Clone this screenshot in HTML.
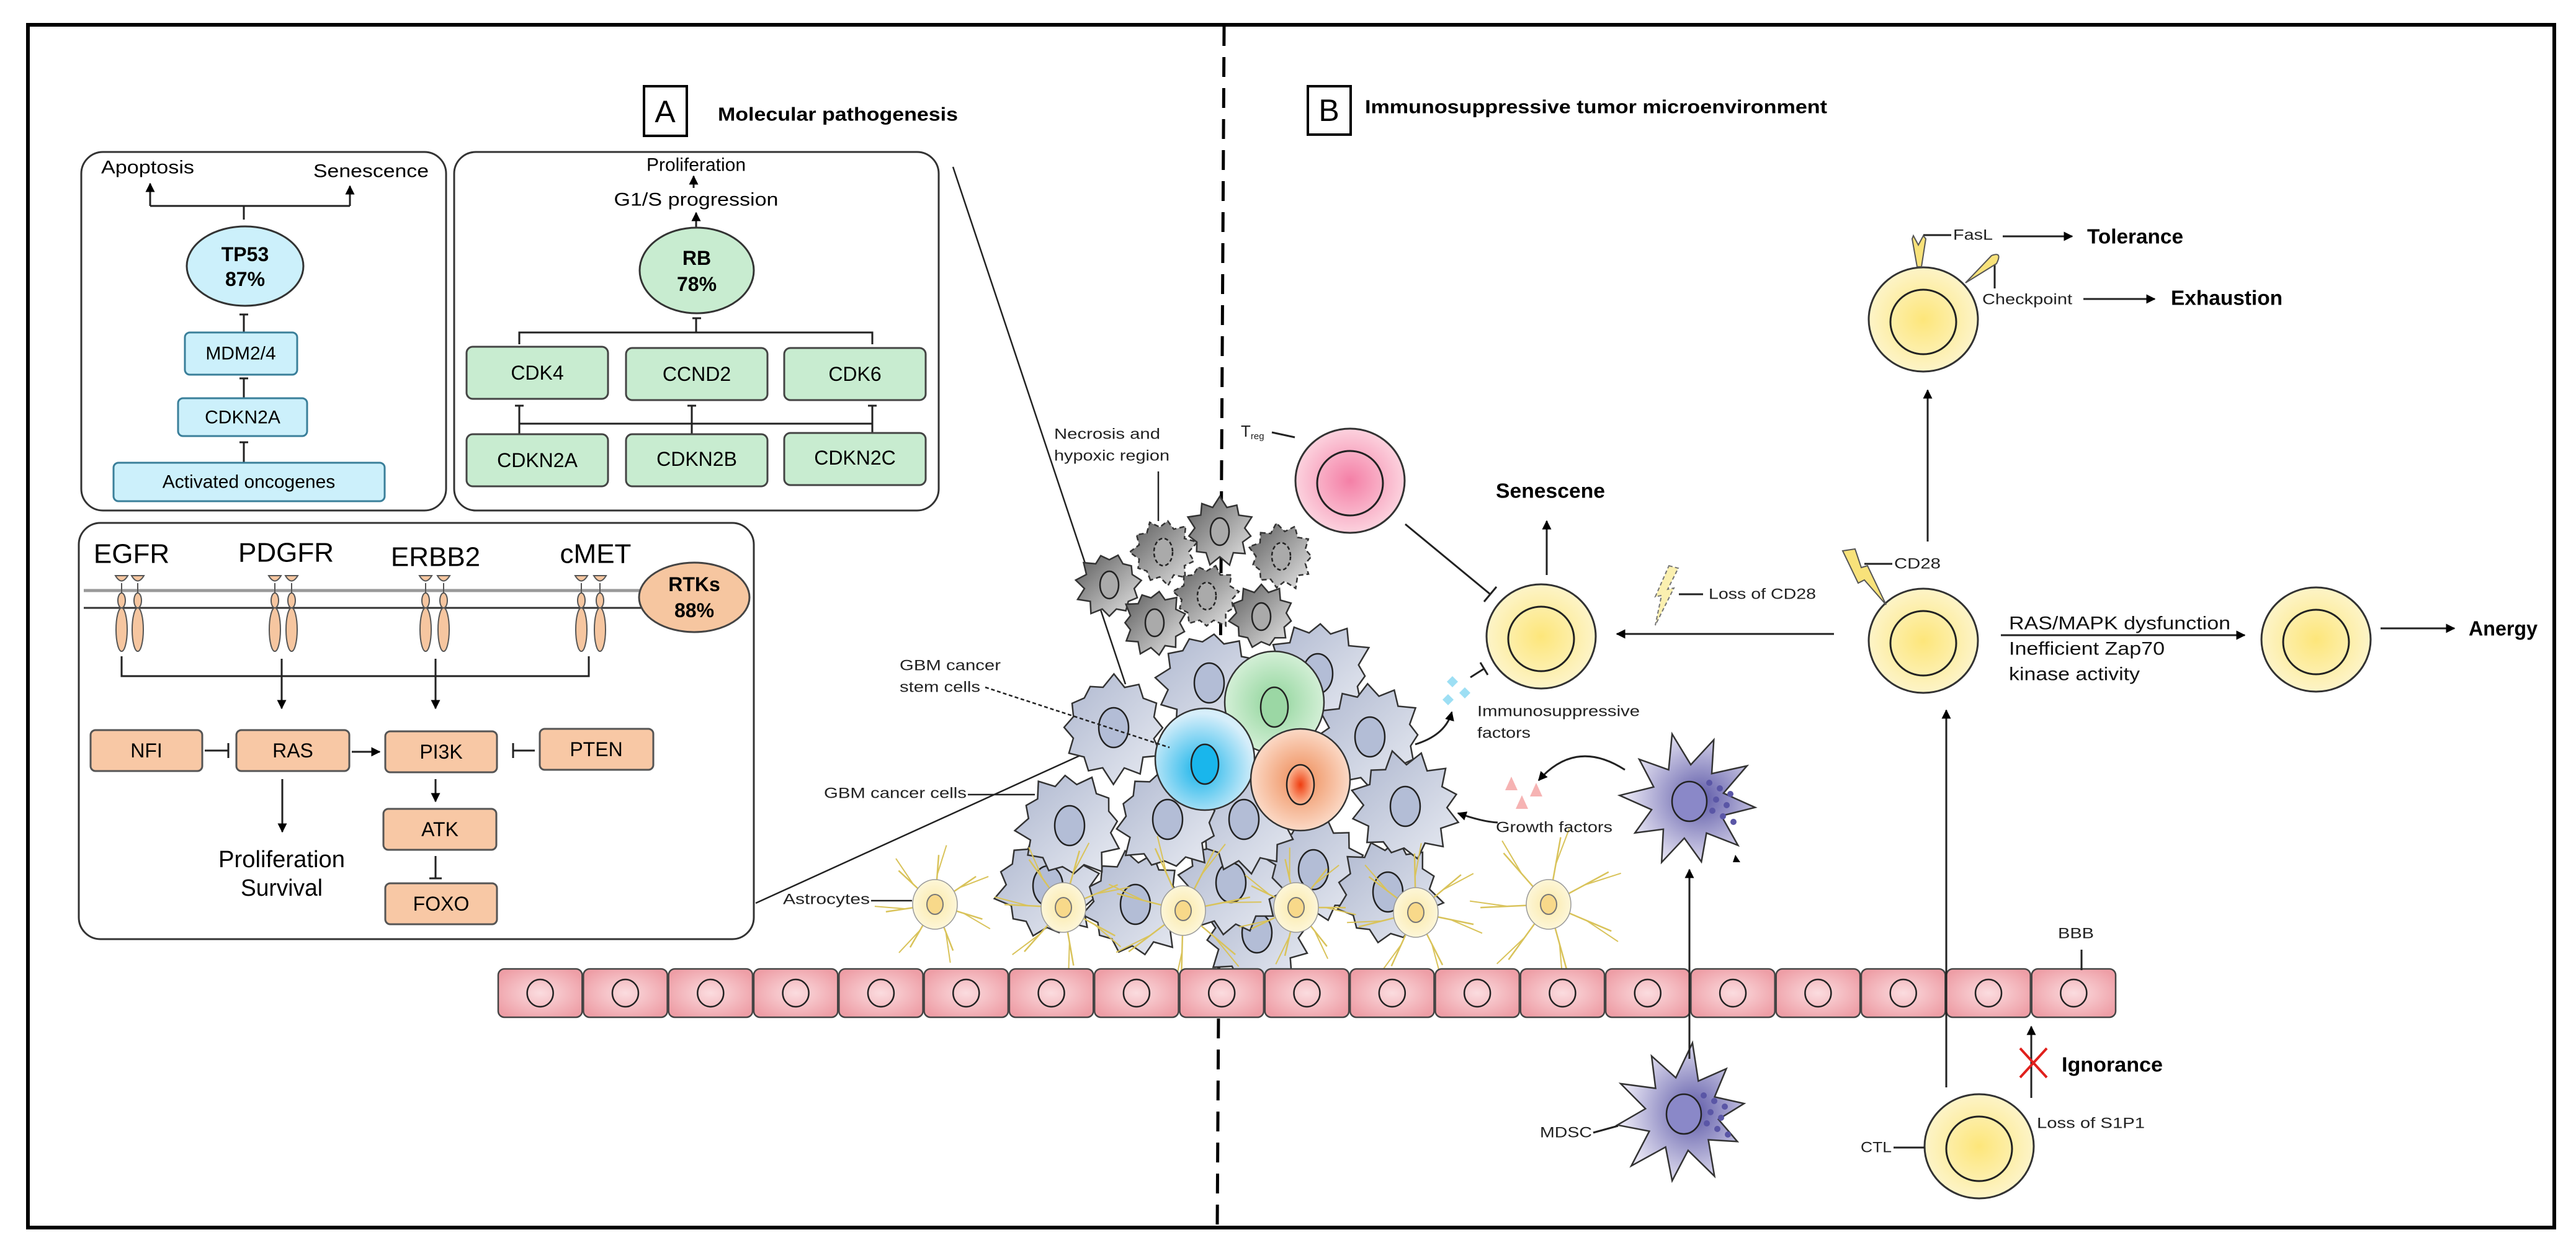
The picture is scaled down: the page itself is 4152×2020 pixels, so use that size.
<!DOCTYPE html>
<html><head><meta charset="utf-8"><style>
html,body{margin:0;padding:0;background:#fff;}
svg{display:block;font-family:"Liberation Sans",Arial,sans-serif;}
</style></head><body>
<svg id="s" xmlns="http://www.w3.org/2000/svg" width="4152" height="2020" viewBox="0 0 4152 2020">
<defs>
<radialGradient id="gy" cx="50%" cy="50%" r="50%"><stop offset="0" stop-color="#fde67a"/><stop offset="1" stop-color="#fdf4c8"/></radialGradient>
<radialGradient id="gp" cx="50%" cy="50%" r="50%"><stop offset="0" stop-color="#f47fa6"/><stop offset="1" stop-color="#fcd2de"/></radialGradient>
<radialGradient id="gb" cx="45%" cy="60%" r="55%"><stop offset="0" stop-color="#18b4ea"/><stop offset="1" stop-color="#d6eefa"/></radialGradient>
<radialGradient id="gg" cx="50%" cy="50%" r="50%"><stop offset="0" stop-color="#8fd49a"/><stop offset="1" stop-color="#d3efd6"/></radialGradient>
<radialGradient id="go" cx="50%" cy="50%" r="50%"><stop offset="0" stop-color="#ee8a55"/><stop offset="1" stop-color="#fbd9c6"/></radialGradient>
<radialGradient id="gn" cx="50%" cy="50%" r="50%"><stop offset="0" stop-color="#ef3d10"/><stop offset="1" stop-color="#fbb996"/></radialGradient>
<linearGradient id="gc" x1="0" y1="0" x2="1" y2="1"><stop offset="0" stop-color="#aeb7cf"/><stop offset="1" stop-color="#e8ebf2"/></linearGradient>
<linearGradient id="gk" x1="0" y1="0" x2="1" y2="1"><stop offset="0" stop-color="#5a5a5a"/><stop offset="1" stop-color="#e8e8e8"/></linearGradient>
<radialGradient id="gm" cx="60%" cy="50%" r="55%"><stop offset="0" stop-color="#5e5aa8"/><stop offset="1" stop-color="#e6e4f3"/></radialGradient>
<radialGradient id="ge" cx="50%" cy="50%" r="60%"><stop offset="0" stop-color="#fbdcdf"/><stop offset="1" stop-color="#ee9ea6"/></radialGradient>
<radialGradient id="ga" cx="50%" cy="50%" r="50%"><stop offset="0" stop-color="#fbe9a8"/><stop offset="1" stop-color="#fdf6d8"/></radialGradient>
<marker id="ar" viewBox="0 0 10 10" refX="9" refY="5" markerWidth="5" markerHeight="5" orient="auto"><path d="M0,0 L10,5 L0,10 z" fill="#000"/></marker>
</defs>

<rect x="45" y="40" width="4072" height="1939" fill="none" stroke="#000" stroke-width="6"/>

<line x1="1973" y1="42" x2="1962" y2="1978" stroke="#000" stroke-width="5" stroke-dasharray="32,18"/>

<rect x="1038" y="139" width="69" height="80" fill="#fff" stroke="#000" stroke-width="4"/>
<text x="1072" y="180" font-size="50" text-anchor="middle" dominant-baseline="central">A</text>
<text x="1157" y="184" font-size="31" font-weight="bold" dominant-baseline="central" textLength="387" lengthAdjust="spacingAndGlyphs">Molecular pathogenesis</text>
<rect x="2108" y="139" width="69" height="78" fill="#fff" stroke="#000" stroke-width="4"/>
<text x="2142" y="178" font-size="50" text-anchor="middle" dominant-baseline="central">B</text>
<text x="2200" y="172" font-size="31" font-weight="bold" dominant-baseline="central" textLength="745" lengthAdjust="spacingAndGlyphs">Immunosuppressive tumor microenvironment</text>

<g stroke="#333" stroke-width="3" fill="none">
<rect x="131" y="245" width="588" height="578" rx="35"/>
<rect x="732" y="245" width="781" height="578" rx="35"/>
<rect x="127" y="843" width="1088" height="671" rx="35"/>
</g>
<g font-size="30" text-anchor="middle" dominant-baseline="central">
<text x="238" y="270" textLength="150" lengthAdjust="spacingAndGlyphs">Apoptosis</text>
<text x="598" y="276" textLength="186" lengthAdjust="spacingAndGlyphs">Senescence</text>
</g>
<g stroke="#222" stroke-width="3" fill="none">
<polyline points="242,332 564,332"/>
<line x1="242" y1="332" x2="242" y2="296" marker-end="url(#ar)"/>
<line x1="564" y1="332" x2="564" y2="300" marker-end="url(#ar)"/>
<line x1="393" y1="332" x2="393" y2="354"/>
<line x1="386" y1="507" x2="400" y2="507"/><line x1="393" y1="507" x2="393" y2="536"/>
<line x1="386" y1="610" x2="400" y2="610"/><line x1="393" y1="610" x2="393" y2="642"/>
<line x1="386" y1="713" x2="400" y2="713"/><line x1="393" y1="713" x2="393" y2="746"/>
</g>
<ellipse cx="395" cy="429" rx="94" ry="64" fill="#ccf0fb" stroke="#333" stroke-width="3"/>
<text x="395" y="410" font-size="32" font-weight="bold" text-anchor="middle" dominant-baseline="central">TP53</text>
<text x="395" y="450" font-size="32" font-weight="bold" text-anchor="middle" dominant-baseline="central">87%</text>
<g fill="#ccf0fb" stroke="#3a7f9a" stroke-width="3">
<rect x="298" y="536" width="181" height="68" rx="8"/>
<rect x="287" y="642" width="208" height="61" rx="8"/>
<rect x="183" y="746" width="437" height="62" rx="8"/>
</g>
<g font-size="30" text-anchor="middle" dominant-baseline="central">
<text x="388" y="570">MDM2/4</text>
<text x="391" y="673">CDKN2A</text>
<text x="401" y="777">Activated oncogenes</text>
</g>

<g font-size="30" text-anchor="middle" dominant-baseline="central">
<text x="1122" y="266">Proliferation</text>
<text x="1122" y="322" textLength="265" lengthAdjust="spacingAndGlyphs">G1/S progression</text>
</g>
<g stroke="#222" stroke-width="3" fill="none">
<line x1="1118" y1="303" x2="1118" y2="284" marker-end="url(#ar)"/>
<line x1="1122" y1="366" x2="1122" y2="343" marker-end="url(#ar)"/>
<line x1="1116" y1="513" x2="1130" y2="513"/><line x1="1122" y1="513" x2="1122" y2="536"/>
<polyline points="837,555 837,536 1406,536 1406,555"/>
<line x1="830" y1="654" x2="844" y2="654"/><line x1="1108" y1="654" x2="1122" y2="654"/><line x1="1399" y1="654" x2="1413" y2="654"/>
<line x1="837" y1="654" x2="837" y2="700"/><line x1="1115" y1="654" x2="1115" y2="700"/><line x1="1406" y1="654" x2="1406" y2="700"/>
<line x1="837" y1="683" x2="1406" y2="683"/>
</g>
<ellipse cx="1123" cy="436" rx="92" ry="69" fill="#c8ecd0" stroke="#333" stroke-width="3"/>
<text x="1123" y="416" font-size="32" font-weight="bold" text-anchor="middle" dominant-baseline="central">RB</text>
<text x="1123" y="458" font-size="32" font-weight="bold" text-anchor="middle" dominant-baseline="central">78%</text>
<g fill="#c8ecd0" stroke="#444" stroke-width="3">
<rect x="752" y="559" width="228" height="84" rx="10"/>
<rect x="1009" y="561" width="228" height="84" rx="10"/>
<rect x="1264" y="561" width="228" height="84" rx="10"/>
<rect x="752" y="700" width="228" height="84" rx="10"/>
<rect x="1009" y="700" width="228" height="84" rx="10"/>
<rect x="1264" y="698" width="228" height="84" rx="10"/>
</g>
<g font-size="32" text-anchor="middle" dominant-baseline="central">
<text x="866" y="601">CDK4</text><text x="1123" y="603">CCND2</text><text x="1378" y="603">CDK6</text>
<text x="866" y="742">CDKN2A</text><text x="1123" y="740">CDKN2B</text><text x="1378" y="738">CDKN2C</text>
</g>

<g font-size="44" text-anchor="middle" dominant-baseline="central">
<text x="212" y="893">EGFR</text><text x="461" y="891">PDGFR</text><text x="702" y="898">ERBB2</text><text x="960" y="893">cMET</text>
</g>
<line x1="135" y1="952" x2="1035" y2="952" stroke="#999" stroke-width="5"/>
<line x1="135" y1="980" x2="1035" y2="980" stroke="#333" stroke-width="3"/>
<g id="rtk" fill="#f6c6a0" stroke="#555" stroke-width="2"></g>
<ellipse cx="1119" cy="963" rx="89" ry="56" fill="#f6c6a0" stroke="#444" stroke-width="3"/>
<text x="1119" y="942" font-size="32" font-weight="bold" text-anchor="middle" dominant-baseline="central">RTKs</text>
<text x="1119" y="984" font-size="32" font-weight="bold" text-anchor="middle" dominant-baseline="central">88%</text>
<g stroke="#222" stroke-width="3" fill="none">
<polyline points="196,1058 196,1090 949,1090 949,1058"/>
<line x1="454" y1="1062" x2="454" y2="1142" marker-end="url(#ar)"/>
<line x1="702" y1="1062" x2="702" y2="1142" marker-end="url(#ar)"/>
<line x1="330" y1="1210" x2="368" y2="1210"/><line x1="368" y1="1198" x2="368" y2="1222"/>
<line x1="567" y1="1212" x2="612" y2="1212" marker-end="url(#ar)"/>
<line x1="827" y1="1210" x2="862" y2="1210"/><line x1="827" y1="1198" x2="827" y2="1222"/>
<line x1="455" y1="1256" x2="455" y2="1341" marker-end="url(#ar)"/>
<line x1="702" y1="1256" x2="702" y2="1292" marker-end="url(#ar)"/>
<line x1="702" y1="1380" x2="702" y2="1416"/><line x1="692" y1="1416" x2="712" y2="1416"/>
</g>
<g fill="#f8c8a5" stroke="#555" stroke-width="3">
<rect x="146" y="1177" width="180" height="66" rx="8"/>
<rect x="381" y="1177" width="182" height="66" rx="8"/>
<rect x="621" y="1179" width="180" height="66" rx="8"/>
<rect x="870" y="1175" width="183" height="66" rx="8"/>
<rect x="618" y="1304" width="182" height="66" rx="8"/>
<rect x="621" y="1424" width="180" height="66" rx="8"/>
</g>
<g font-size="32" text-anchor="middle" dominant-baseline="central">
<text x="236" y="1210">NFI</text><text x="472" y="1210">RAS</text><text x="711" y="1212">PI3K</text><text x="961" y="1208">PTEN</text>
<text x="709" y="1337">ATK</text><text x="711" y="1457">FOXO</text>
</g>
<text x="454" y="1386" font-size="38" text-anchor="middle" dominant-baseline="central" textLength="204" lengthAdjust="spacingAndGlyphs">Proliferation</text>
<text x="454" y="1432" font-size="38" text-anchor="middle" dominant-baseline="central" textLength="132" lengthAdjust="spacingAndGlyphs">Survival</text>

<line x1="1536" y1="269" x2="1814" y2="1103" stroke="#222" stroke-width="2.5"/>
<line x1="1218" y1="1456" x2="1754" y2="1212" stroke="#222" stroke-width="2.5"/>

<g id="tumor"></g>

<g font-size="24" dominant-baseline="central" fill="#222">
<text x="1699" y="700" textLength="171" lengthAdjust="spacingAndGlyphs">Necrosis and</text>
<text x="1699" y="735" textLength="186" lengthAdjust="spacingAndGlyphs">hypoxic region</text>
<text x="1450" y="1073" textLength="163" lengthAdjust="spacingAndGlyphs">GBM cancer</text>
<text x="1450" y="1108" textLength="130" lengthAdjust="spacingAndGlyphs">stem cells</text>
<text x="1328" y="1279" textLength="230" lengthAdjust="spacingAndGlyphs">GBM cancer cells</text>
<text x="1262" y="1450" textLength="140" lengthAdjust="spacingAndGlyphs">Astrocytes</text>
</g>
<g stroke="#222" stroke-width="2.5" fill="none">
<line x1="1867" y1="760" x2="1867" y2="840"/>
<line x1="1588" y1="1108" x2="1885" y2="1205" stroke-dasharray="6,4"/>
<line x1="1560" y1="1281" x2="1668" y2="1281"/>
<line x1="1404" y1="1452" x2="1470" y2="1452"/>
</g>

<g id="endo"></g>

<g id="tcells"></g>
<g stroke="#222" stroke-width="3" fill="none">
<line x1="3107" y1="873" x2="3107" y2="629" marker-end="url(#ar)"/>
<line x1="2956" y1="1022" x2="2606" y2="1022" marker-end="url(#ar)"/>
<line x1="2493" y1="927" x2="2493" y2="840" marker-end="url(#ar)"/>
<line x1="2265" y1="845" x2="2402" y2="958"/><line x1="2392" y1="970" x2="2412" y2="946"/>
<line x1="3225" y1="1024" x2="3618" y2="1024" marker-end="url(#ar)"/>
<line x1="3837" y1="1013" x2="3956" y2="1013" marker-end="url(#ar)"/>
<line x1="3228" y1="381" x2="3340" y2="381" marker-end="url(#ar)"/>
<line x1="3358" y1="482" x2="3473" y2="482" marker-end="url(#ar)"/>
<line x1="3137" y1="1753" x2="3137" y2="1145" marker-end="url(#ar)"/>
<line x1="2723" y1="1707" x2="2723" y2="1402" marker-end="url(#ar)"/>
<line x1="3274" y1="1770" x2="3274" y2="1655" marker-end="url(#ar)"/>
<line x1="3355" y1="1531" x2="3355" y2="1564"/>
<line x1="2370" y1="1092" x2="2392" y2="1078"/><line x1="2386" y1="1068" x2="2398" y2="1088"/>
<path d="M2281,1200 Q2330,1185 2340,1148" marker-end="url(#ar)"/>
<path d="M2619,1241 Q2540,1190 2480,1258" marker-end="url(#ar)"/>
<path d="M2414,1326 Q2390,1325 2350,1311" marker-end="url(#ar)"/>
<line x1="2050" y1="697" x2="2087" y2="705"/>
<line x1="3005" y1="909" x2="3050" y2="909"/>
<line x1="2706" y1="958" x2="2745" y2="958"/>
<line x1="2568" y1="1826" x2="2608" y2="1815"/>
<line x1="3052" y1="1850" x2="3102" y2="1850"/>
<line x1="3100" y1="379" x2="3145" y2="379"/>
<line x1="3215" y1="420" x2="3215" y2="465"/>
</g>
<g stroke="#e0201c" stroke-width="4"><line x1="3256" y1="1690" x2="3299" y2="1737"/><line x1="3299" y1="1690" x2="3256" y2="1737"/></g>
<path d="M2970,888 L2990,885 L3000,915 L3010,912 L3040,975 L3005,935 L2995,940 Z" fill="#f8e27a" stroke="#555" stroke-width="2"/>
<path d="M2690,912 L2705,916 L2688,950 L2698,948 L2668,1008 L2678,960 L2668,962 Z" fill="#fbf0b0" stroke="#777" stroke-width="2" stroke-dasharray="6,4"/>
<path d="M3084,380 L3092,395 L3100,380 L3104,385 L3097,430 L3090,430 L3082,385 Z" fill="#f8e27a" stroke="#555" stroke-width="2"/>
<path d="M3168,456 L3210,412 Q3228,405 3218,425 Z" fill="#f8e27a" stroke="#555" stroke-width="2"/>
<g fill="#9ddff4"><path d="M2341,1090 l9,9 -9,9 -9,-9z"/><path d="M2361,1108 l9,9 -9,9 -9,-9z"/><path d="M2334,1119 l9,9 -9,9 -9,-9z"/></g>
<g fill="#f6b3b3"><path d="M2436,1252 l10,22 -20,0z"/><path d="M2476,1262 l10,22 -20,0z"/><path d="M2453,1282 l10,22 -20,0z"/></g>
<path d="M2797,1378 l8,12 -12,0z" fill="#000"/>

<g font-size="24" dominant-baseline="central" fill="#222">
<text x="2000" y="695" font-size="26">T<tspan font-size="15" dy="8">reg</tspan></text>
<text x="3053" y="909" textLength="75" lengthAdjust="spacingAndGlyphs">CD28</text>
<text x="2754" y="958" textLength="173" lengthAdjust="spacingAndGlyphs">Loss of CD28</text>
<text x="2381" y="1147" textLength="262" lengthAdjust="spacingAndGlyphs">Immunosuppressive</text>
<text x="2381" y="1182" textLength="86" lengthAdjust="spacingAndGlyphs">factors</text>
<text x="2411" y="1334" textLength="188" lengthAdjust="spacingAndGlyphs">Growth factors</text>
<text x="2482" y="1826" textLength="84" lengthAdjust="spacingAndGlyphs">MDSC</text>
<text x="2999" y="1850" textLength="50" lengthAdjust="spacingAndGlyphs">CTL</text>
<text x="3283" y="1811" textLength="174" lengthAdjust="spacingAndGlyphs">Loss of S1P1</text>
<text x="3317" y="1505" textLength="58" lengthAdjust="spacingAndGlyphs">BBB</text>
<text x="3148" y="379" textLength="64" lengthAdjust="spacingAndGlyphs">FasL</text>
<text x="3195" y="483" textLength="145" lengthAdjust="spacingAndGlyphs">Checkpoint</text>
</g>
<g font-size="30" dominant-baseline="central" fill="#111">
<text x="3238" y="1005" textLength="357" lengthAdjust="spacingAndGlyphs">RAS/MAPK dysfunction</text>
<text x="3238" y="1046" textLength="251" lengthAdjust="spacingAndGlyphs">Inefficient Zap70</text>
<text x="3238" y="1087" textLength="211" lengthAdjust="spacingAndGlyphs">kinase activity</text>
</g>
<g font-size="33" font-weight="bold" dominant-baseline="central">
<text x="2411" y="791" textLength="176" lengthAdjust="spacingAndGlyphs">Senescene</text>
<text x="3364" y="381" textLength="155" lengthAdjust="spacingAndGlyphs">Tolerance</text>
<text x="3499" y="480" textLength="180" lengthAdjust="spacingAndGlyphs">Exhaustion</text>
<text x="3979" y="1013" textLength="111" lengthAdjust="spacingAndGlyphs">Anergy</text>
<text x="3323" y="1716" textLength="163" lengthAdjust="spacingAndGlyphs">Ignorance</text>
</g>
</svg>
<script>
var NS="http://www.w3.org/2000/svg";
function el(p,t,a){var e=document.createElementNS(NS,t);for(var k in a)e.setAttribute(k,a[k]);p.appendChild(e);return e;}
function star(cx,cy,R,n,ratio,seed){var d="",s=seed||1;for(var i=0;i<n*2;i++){s=(s*9301+49297)%233280;var j=0.9+0.2*(s/233280);var r=(i%2?R*ratio:R*j);var a=i*Math.PI/n+seed;d+=(i?"L":"M")+(cx+r*Math.cos(a)).toFixed(1)+","+(cy+r*Math.sin(a)).toFixed(1);}return d+"Z";}
var rtk=document.getElementById("rtk");
[[196,222],[443,470],[686,715],[937,967]].forEach(function(p){p.forEach(function(x){
 el(rtk,"path",{d:"M"+(x-10)+",928 Q"+x+",945 "+(x+10)+",928 Z"});
 el(rtk,"line",{x1:x,y1:940,x2:x,y2:960});
 el(rtk,"ellipse",{cx:x,cy:968,rx:6,ry:12});
 el(rtk,"ellipse",{cx:x,cy:1015,rx:9,ry:35});
});});
var en=document.getElementById("endo");var w=(3411-802)/19;
for(var i=0;i<19;i++){var x=802+i*w;el(en,"rect",{x:x+1,y:1562,width:w-2,height:78,rx:10,fill:"url(#ge)",stroke:"#444","stroke-width":2.5});
el(en,"ellipse",{cx:x+w/2,cy:1601,rx:21,ry:22,fill:"none",stroke:"#222","stroke-width":2.5});}
var tu=document.getElementById("tumor");
var gray=[[1788,943,0],[1875,890,1],[1966,857,0],[2065,897,1],[1945,961,1],[1861,1004,0],[2033,994,0]];
gray.forEach(function(c,k){el(tu,"path",{d:star(c[0],c[1],52,11,0.78,k+1),fill:"url(#gk)",stroke:"#333","stroke-width":2.5,"stroke-dasharray":c[2]?"8,5":"none"});
el(tu,"ellipse",{cx:c[0],cy:c[1],rx:15,ry:22,fill:"#aaa",stroke:"#222","stroke-width":2.5,"stroke-dasharray":c[2]?"6,4":"none"});});
var blue=[[2026,1504],[1830,1458],[1689,1428],[2117,1402],[2237,1438],[1984,1423],[1949,1101],[2124,1086],[1795,1173],[2208,1188],[1724,1331],[2005,1321],[1882,1321],[2265,1300]];
blue.forEach(function(c,k){el(tu,"path",{d:star(c[0],c[1],84,12,0.8,k+3),fill:"url(#gc)",stroke:"#333","stroke-width":2.5});
el(tu,"ellipse",{cx:c[0],cy:c[1],rx:24,ry:32,fill:"#b3bdd6",stroke:"#222","stroke-width":2.5});});
[[2054,1132,"url(#gg)","#9bd7a4"],[1942,1224,"url(#gb)","#19b6ec"],[2096,1257,"url(#go)","url(#gn)"]].forEach(function(c){
el(tu,"ellipse",{cx:c[0],cy:c[1],rx:80,ry:82,fill:c[2],stroke:"#333","stroke-width":2.5});
el(tu,"ellipse",{cx:c[0],cy:c[1]+8,rx:22,ry:32,fill:c[3],stroke:"#222","stroke-width":2.5});});
[[1507,1458],[1714,1463],[1907,1468],[2089,1463],[2282,1471],[2496,1458]].forEach(function(c,k){
for(var i=0;i<7;i++){var a=i*Math.PI*2/7+0.3+k*0.2;var L=80+15*((i*3+k)%3);
var x2=c[0]+L*Math.cos(a),y2=c[1]+L*Math.sin(a);
el(tu,"line",{x1:c[0],y1:c[1],x2:x2,y2:y2,stroke:"#d9c35a","stroke-width":2.5});
el(tu,"line",{x1:c[0]+0.6*L*Math.cos(a),y1:c[1]+0.6*L*Math.sin(a),x2:x2+20*Math.cos(a+0.6),y2:y2+20*Math.sin(a+0.6),stroke:"#d9c35a","stroke-width":2});}
el(tu,"ellipse",{cx:c[0],cy:c[1],rx:36,ry:40,fill:"url(#ga)",stroke:"#999","stroke-width":1.5});
el(tu,"ellipse",{cx:c[0],cy:c[1],rx:13,ry:16,fill:"#f8d98a",stroke:"#777","stroke-width":2});});
var tc=document.getElementById("tcells");
function cell(cx,cy,g){el(tc,"ellipse",{cx:cx,cy:cy,rx:88,ry:84,fill:g||"url(#gy)",stroke:"#333","stroke-width":3});
el(tc,"ellipse",{cx:cx,cy:cy+4,rx:53,ry:52,fill:"none",stroke:"#222","stroke-width":3});}
cell(2176,775,"url(#gp)");cell(2484,1026);cell(3100,515);cell(3100,1033);cell(3733,1031);cell(3190,1848);
[[2720,1292],[2711,1796]].forEach(function(c,k){el(tc,"path",{d:star(c[0],c[1],108,10,0.55,k+7),fill:"url(#gm)",stroke:"#333","stroke-width":2.5});
el(tc,"ellipse",{cx:c[0]+3,cy:c[1],rx:28,ry:32,fill:"#8a88c8",stroke:"#222","stroke-width":2.5});
for(var i=0;i<8;i++)el(tc,"circle",{cx:c[0]+35+((i*17)%40),cy:c[1]-30+i*9,r:5,fill:"#5a56a6"});});
</script>
</body></html>
